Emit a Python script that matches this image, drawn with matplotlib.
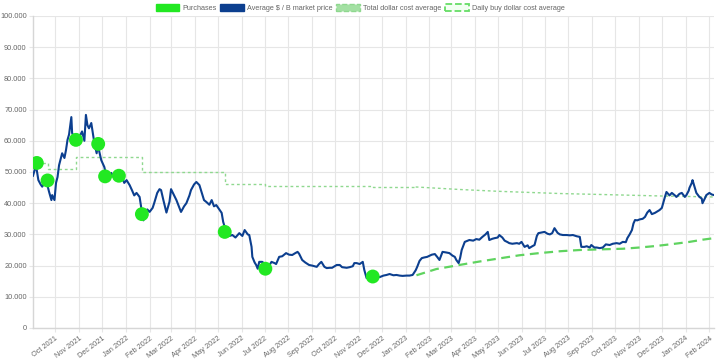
import pandas as pd
import matplotlib
matplotlib.use("Agg")
import matplotlib.pyplot as plt
import matplotlib.dates as mdates
from matplotlib.patches import Patch
from matplotlib.ticker import FuncFormatter, MultipleLocator

plt.rcParams["font.family"] = ["Liberation Sans", "DejaVu Sans"]

# market price (roughly every few days)
price_dates = [
    "2021-09-02", "2021-09-04", "2021-09-06", "2021-09-09", "2021-09-12", "2021-09-14",
    "2021-09-17", "2021-09-19", "2021-09-23", "2021-09-26", "2021-09-27", "2021-09-30",
    "2021-10-02", "2021-10-04", "2021-10-06", "2021-10-10", "2021-10-13", "2021-10-15",
    "2021-10-17", "2021-10-19", "2021-10-22", "2021-10-23", "2021-10-26", "2021-10-28",
    "2021-11-01", "2021-11-05", "2021-11-08", "2021-11-10", "2021-11-12", "2021-11-14",
    "2021-11-17", "2021-11-21", "2021-11-24", "2021-11-25", "2021-11-27", "2021-11-30",
    "2021-12-04", "2021-12-07", "2021-12-10", "2021-12-13", "2021-12-17", "2021-12-21",
    "2021-12-24", "2021-12-27", "2021-12-30", "2022-01-02", "2022-01-06", "2022-01-09",
    "2022-01-12", "2022-01-15", "2022-01-19", "2022-01-21", "2022-01-24", "2022-01-26",
    "2022-01-29", "2022-02-01", "2022-02-05", "2022-02-07", "2022-02-11", "2022-02-14",
    "2022-02-16", "2022-02-19", "2022-02-23", "2022-02-27", "2022-03-01", "2022-03-04",
    "2022-03-08", "2022-03-12", "2022-03-14", "2022-03-18", "2022-03-21", "2022-03-25",
    "2022-03-27", "2022-03-31", "2022-04-03", "2022-04-07", "2022-04-11", "2022-04-13",
    "2022-04-16", "2022-04-20", "2022-04-23", "2022-04-26", "2022-04-29", "2022-05-03",
    "2022-05-06", "2022-05-08", "2022-05-10", "2022-05-13", "2022-05-16", "2022-05-20",
    "2022-05-24", "2022-05-29", "2022-06-02", "2022-06-05", "2022-06-09", "2022-06-11",
    "2022-06-14", "2022-06-15", "2022-06-18", "2022-06-20", "2022-06-22", "2022-06-24",
    "2022-06-28", "2022-07-01", "2022-07-03", "2022-07-07", "2022-07-10", "2022-07-14",
    "2022-07-16", "2022-07-20", "2022-07-24", "2022-07-29", "2022-08-02", "2022-08-06",
    "2022-08-10", "2022-08-13", "2022-08-15", "2022-08-19", "2022-08-23", "2022-08-28",
    "2022-09-01", "2022-09-07", "2022-09-10", "2022-09-13", "2022-09-17", "2022-09-20",
    "2022-09-24", "2022-09-27", "2022-10-03", "2022-10-07", "2022-10-10", "2022-10-16",
    "2022-10-20", "2022-10-24", "2022-10-26", "2022-10-29", "2022-11-02", "2022-11-06",
    "2022-11-08", "2022-11-11", "2022-11-13", "2022-11-19", "2022-11-24", "2022-11-28",
    "2022-12-03", "2022-12-07", "2022-12-11", "2022-12-16", "2022-12-20", "2022-12-24",
    "2022-12-28", "2023-01-02", "2023-01-06", "2023-01-10", "2023-01-14", "2023-01-16",
    "2023-01-19", "2023-01-22", "2023-01-25", "2023-01-29", "2023-02-04", "2023-02-08",
    "2023-02-11", "2023-02-14", "2023-02-18", "2023-02-23", "2023-02-27", "2023-03-03",
    "2023-03-06", "2023-03-08", "2023-03-11", "2023-03-13", "2023-03-15", "2023-03-19",
    "2023-03-23", "2023-03-25", "2023-03-30", "2023-04-03", "2023-04-07", "2023-04-11",
    "2023-04-15", "2023-04-18", "2023-04-20", "2023-04-24", "2023-04-27", "2023-05-01",
    "2023-05-03", "2023-05-07", "2023-05-10", "2023-05-14", "2023-05-16", "2023-05-20",
    "2023-05-26", "2023-05-29", "2023-06-01", "2023-06-05", "2023-06-09", "2023-06-11",
    "2023-06-15", "2023-06-18", "2023-06-21", "2023-06-23", "2023-06-27", "2023-07-01",
    "2023-07-05", "2023-07-08", "2023-07-11", "2023-07-14", "2023-07-18", "2023-07-21",
    "2023-07-25", "2023-07-30", "2023-08-03", "2023-08-07", "2023-08-12", "2023-08-16",
    "2023-08-18", "2023-08-22", "2023-08-25", "2023-08-29", "2023-08-31", "2023-09-04",
    "2023-09-07", "2023-09-11", "2023-09-15", "2023-09-19", "2023-09-24", "2023-09-28",
    "2023-10-03", "2023-10-07", "2023-10-11", "2023-10-15", "2023-10-17", "2023-10-20",
    "2023-10-23", "2023-10-25", "2023-10-27", "2023-10-30", "2023-11-02", "2023-11-06",
    "2023-11-09", "2023-11-12", "2023-11-15", "2023-11-18", "2023-11-22", "2023-11-26",
    "2023-11-28", "2023-12-01", "2023-12-02", "2023-12-05", "2023-12-07", "2023-12-11",
    "2023-12-14", "2023-12-18", "2023-12-20", "2023-12-24", "2023-12-27", "2023-12-31",
    "2024-01-02", "2024-01-05", "2024-01-06", "2024-01-09", "2024-01-10", "2024-01-13",
    "2024-01-15", "2024-01-19", "2024-01-22", "2024-01-23", "2024-01-26", "2024-01-28",
    "2024-02-01", "2024-02-04", "2024-02-07",
]
price_values = [
    48800, 50500, 52000, 47400, 46000, 45300,
    46500, 47500, 43600, 41000, 42600, 41000,
    46500, 48400, 52200, 56000, 54500, 57000,
    60300, 62000, 67600, 62500, 61000, 60300,
    61000, 63000, 60000, 68300, 65000, 64000,
    65700, 59300, 56000, 58000, 57000, 53800,
    51600, 48400, 47500, 49700, 48000, 49000,
    50500, 48400, 46500, 47400, 45800, 44200,
    42500, 43300, 42000, 38800, 34500, 36500,
    38000, 37200, 38500, 40000, 43300, 44500,
    44200, 41000, 37000, 40500, 44500, 43000,
    41000, 38500, 37200, 39000, 40000, 42500,
    44200, 46000, 46800, 45800, 42600, 41000,
    40400, 39500, 41000, 39000, 39400, 38000,
    36900, 34000, 32400, 30400, 29500, 29800,
    29000, 30400, 29500, 31400, 30000, 29800,
    26000, 22800, 21000, 20200, 19000, 21200,
    21200, 20500, 19600, 20000, 21200, 20800,
    20500, 22800, 23000, 24000, 23500, 23400,
    24000, 24400, 23800, 21800, 21000, 20200,
    20000, 19600, 20500, 21200, 19600, 19200,
    19300, 19300, 20200, 20200, 19500, 19300,
    19500, 19800, 20800, 20800, 20500, 21200,
    18600, 16000, 16500, 16700, 16500, 16300,
    16800, 17000, 17300, 16900, 17000, 16800,
    16700, 16800, 16800, 17000, 18500, 19600,
    21500, 22400, 22600, 22800, 23500, 23700,
    22800, 21800, 24400, 24200, 24000, 23200,
    22800, 21800, 20800, 22500, 25000, 27600,
    28000, 28200, 28000, 28500, 28300, 29200,
    30000, 30800, 28200, 28600, 28800, 29000,
    29800, 29000, 28000, 27500, 27200, 27000,
    27200, 27000, 27600, 26000, 26500, 25600,
    26200, 26600, 29500, 30400, 30600, 30800,
    30200, 30000, 30400, 32000, 30500, 30000,
    29800, 29800, 29700, 29800, 29400, 29200,
    26000, 26000, 26200, 25800, 26600, 25800,
    25800, 25600, 25800, 26800, 26600, 27000,
    27200, 27000, 27600, 27500, 28800, 30000,
    31400, 33500, 34600, 34500, 34800, 35000,
    35600, 37000, 37800, 36500, 36900, 37500,
    37800, 38500, 39400, 42000, 43600, 42500,
    43300, 42500, 42000, 43000, 43300, 42000,
    42600, 44000, 44900, 46500, 47400, 45000,
    43300, 42000, 41500, 40000, 41500, 42600,
    43300, 42800, 42600,
]

purchase_dates = ["2021-09-07", "2021-09-21", "2021-10-28", "2021-11-26", "2021-12-05",
                  "2021-12-23", "2022-01-22", "2022-05-10", "2022-07-02", "2022-11-19"]
purchase_values = [52900, 47300, 60300, 59000, 48600, 48800, 36500, 30800, 19000, 16500]

# total dollar cost average: steps at purchases, then drifting down with daily buys
total_dca_dates = ["2021-09-07", "2021-09-21", "2021-10-28", "2022-01-22", "2022-05-10",
                   "2022-07-02", "2022-11-19", "2023-01-14"]
total_dca_values = [52900, 51000, 54700, 50100, 46300, 45500, 45200, 45200]
total_dca_trend_dates = ["2023-01-14", "2023-03-12", "2023-05-03", "2023-07-21",
                         "2023-09-11", "2023-12-02", "2024-02-07"]
total_dca_trend_values = [45200, 44400, 43800, 43100, 42800, 42300, 42000]

daily_dca_dates = ["2023-01-15", "2023-02-10", "2023-03-12", "2023-04-07", "2023-05-03",
                   "2023-05-29", "2023-06-24", "2023-07-21", "2023-08-16", "2023-09-11",
                   "2023-10-11", "2023-11-02", "2023-11-24", "2023-12-18", "2024-01-06",
                   "2024-01-23", "2024-02-07"]
daily_dca_values = [16900, 18900, 20200, 21300, 22300, 23300, 24000, 24600, 25000, 25200,
                    25400, 25800, 26300, 27000, 27600, 28300, 28800]

legend_labels = ["Purchases", "Average $ / B market price",
                 "Total dollar cost average", "Daily buy dollar cost average"]

GREEN = "#22e822"
BLUE = "#0c3f8f"
LIGHT = "#8fd88f"
DASH = "#5fd35f"
GRID = "#e6e6e6"
TEXT = "#666666"

fig = plt.figure(figsize=(7.2, 3.59), dpi=100)
ax = fig.add_axes([33 / 720, 1 - 328 / 359, (714 - 33) / 720, (328 - 16) / 359])

ax.plot(pd.to_datetime(daily_dca_dates), daily_dca_values, color=DASH, lw=1.6,
        ls=(0, (4, 2.5)), zorder=2)
ax.plot(pd.to_datetime(total_dca_dates), total_dca_values, color=LIGHT, lw=1,
        ls=(0, (2, 2)), drawstyle="steps-post", zorder=2)
ax.plot(pd.to_datetime(total_dca_trend_dates), total_dca_trend_values, color=LIGHT, lw=1,
        ls=(0, (2, 2)), zorder=2)
ax.plot(pd.to_datetime(price_dates), price_values, color=BLUE, lw=1.5, zorder=3)
ax.scatter(pd.to_datetime(purchase_dates), purchase_values, s=100, color=GREEN,
           edgecolors="none", zorder=5)

ax.set_ylim(0, 100000)
ax.set_xlim(pd.Timestamp("2021-09-02"), pd.Timestamp("2024-02-07"))
ax.yaxis.set_major_locator(MultipleLocator(10000))
ax.yaxis.set_major_formatter(FuncFormatter(lambda v, p: f"{v:,.0f}".replace(",", ".")))
ax.xaxis.set_major_locator(mdates.MonthLocator())
ax.xaxis.set_major_formatter(mdates.DateFormatter("%b %Y"))

ax.grid(True, color=GRID, lw=0.8)
ax.set_axisbelow(True)
for s in ["top", "right"]:
    ax.spines[s].set_visible(False)
for s in ["left", "bottom"]:
    ax.spines[s].set_color("#d6d6d6")
    ax.spines[s].set_linewidth(1)
ax.tick_params(axis="both", labelsize=5.3, labelcolor=TEXT, color=GRID, length=3, width=0.8)
ax.tick_params(axis="y", pad=1.5)
ax.tick_params(axis="x", pad=2)
for lab in ax.get_xticklabels():
    lab.set_rotation(37)
    lab.set_ha("right")
    lab.set_rotation_mode("anchor")

handles = [
    Patch(facecolor=GREEN, edgecolor=GREEN),
    Patch(facecolor=BLUE, edgecolor=BLUE),
    Patch(facecolor="#a3e0a3", edgecolor=LIGHT, linestyle="--", lw=1),
    Patch(facecolor="#f2fff2", edgecolor="#66dd66", linestyle="--", lw=1.3),
]
fig.legend(handles, legend_labels, loc="upper center", bbox_to_anchor=(0.5, 0.995),
           ncol=4, frameon=False, fontsize=5.2, labelcolor=TEXT, handlelength=3.3,
           handleheight=1.1, handletextpad=0.4, columnspacing=0.5,
           borderpad=0.2, borderaxespad=0.1)

fig.savefig("out.png", dpi=100)
